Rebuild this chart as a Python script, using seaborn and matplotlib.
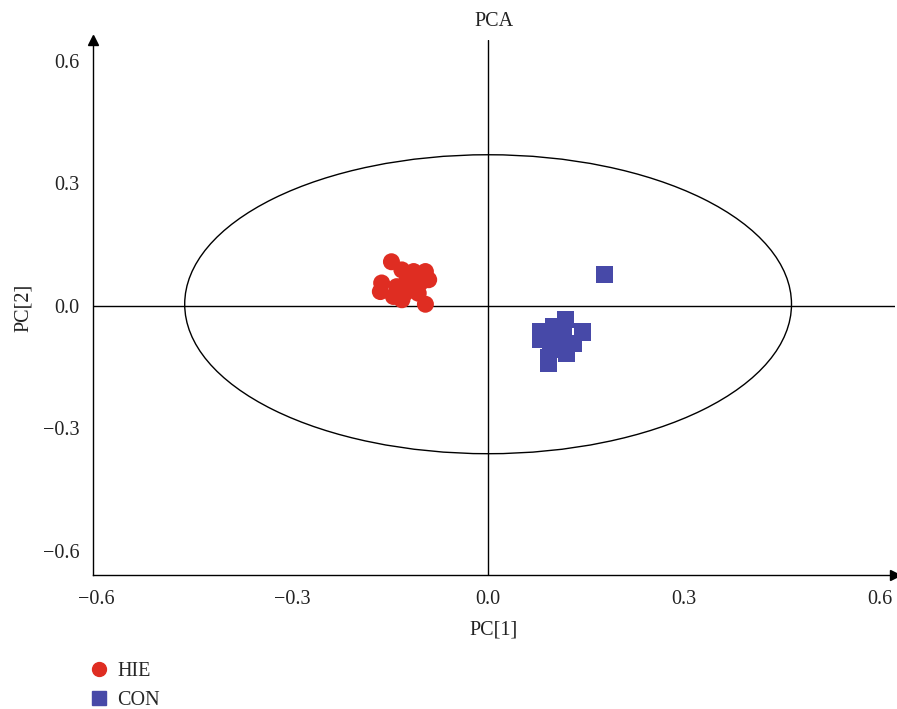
import matplotlib
matplotlib.use("Agg")
import matplotlib.pyplot as plt
import seaborn as sns
import pandas as pd
import numpy as np
from matplotlib.patches import Ellipse
from matplotlib.lines import Line2D

hie_x = [-0.148, -0.132, -0.114, -0.096, -0.091, -0.163, -0.165, -0.145, -0.132,
         -0.096, -0.119, -0.107, -0.124, -0.140, -0.104, -0.115, -0.128]
hie_y = [0.108, 0.088, 0.084, 0.084, 0.064, 0.056, 0.035, 0.023, 0.015,
         0.004, 0.039, 0.031, 0.064, 0.047, 0.056, 0.050, 0.030]
con_x = [0.119, 0.144, 0.081, 0.081, 0.093, 0.093, 0.100, 0.115, 0.131,
         0.110, 0.120, 0.095, 0.105, 0.179]
con_y = [-0.033, -0.064, -0.064, -0.082, -0.126, -0.140, -0.051, -0.075, -0.091,
         -0.108, -0.116, -0.091, -0.059, 0.076]
groups = ["HIE", "CON"]
ticks = [-0.6, -0.3, 0.0, 0.3, 0.6]
tick_labels = ["\u22120.6", "\u22120.3", "0.0", "0.3", "0.6"]

df = pd.DataFrame({
    "PC1": hie_x + con_x,
    "PC2": hie_y + con_y,
    "group": ["HIE"] * len(hie_x) + ["CON"] * len(con_x),
})

sns.set_style("white")
plt.rcParams["font.family"] = ["Liberation Serif", "DejaVu Serif"]

fig = plt.figure(figsize=(8.97, 7.09), dpi=100)
ax = fig.add_axes([0.1037, 0.189, 0.894, 0.7546])

palette = {"HIE": "#DF2D22", "CON": "#4749A8"}
markers = {"HIE": "o", "CON": "s"}
sns.scatterplot(data=df, x="PC1", y="PC2", hue="group", style="group",
                hue_order=groups, style_order=groups, palette=palette,
                markers=markers, s=150, linewidth=0, ax=ax, legend=False, zorder=3)

ell = Ellipse((0.0, 0.004), width=2 * 0.4646, height=2 * 0.366,
              fill=False, edgecolor="black", linewidth=1.0, zorder=2)
ax.add_patch(ell)

ax.axvline(0, color="black", linewidth=1.0, zorder=1)
ax.axhline(0, color="black", linewidth=1.0, zorder=1)

ax.set_xlim(-0.605, 0.623)
ax.set_ylim(-0.659, 0.651)
ax.set_xticks(ticks)
ax.set_xticklabels(tick_labels)
ax.set_yticks(ticks)
ax.set_yticklabels(tick_labels)
ax.tick_params(axis="x", direction="in", length=5, width=1, labelsize=14.5, pad=11,
               colors="black", labelcolor="#222222")
ax.tick_params(axis="y", direction="out", length=5, width=1, labelsize=14.5, pad=5,
               colors="black", labelcolor="#222222")

for sp in ["top", "right"]:
    ax.spines[sp].set_visible(False)
for sp in ["left", "bottom"]:
    ax.spines[sp].set_color("black")
    ax.spines[sp].set_linewidth(1.0)

ax.plot(1, 0, ">k", transform=ax.transAxes, clip_on=False, markersize=7)
ax.plot(0, 1, "^k", transform=ax.transAxes, clip_on=False, markersize=7)

ax.set_xlabel("PC[1]", fontsize=14.5, color="#222222", labelpad=8)
ax.set_ylabel("PC[2]", fontsize=14.5, color="#222222", labelpad=7)
ax.set_title("PCA", fontsize=14.5, color="#222222", pad=10)

handles = [Line2D([], [], marker="o", linestyle="", color=palette["HIE"], markersize=10),
           Line2D([], [], marker="s", linestyle="", color=palette["CON"], markersize=9.5)]
fig.legend(handles, groups, loc="upper left", bbox_to_anchor=(0.088, 0.078),
           frameon=False, fontsize=14.5, handletextpad=0.3, labelspacing=0.5,
           borderaxespad=0, handlelength=1.2)

fig.savefig("out.png", dpi=100)
